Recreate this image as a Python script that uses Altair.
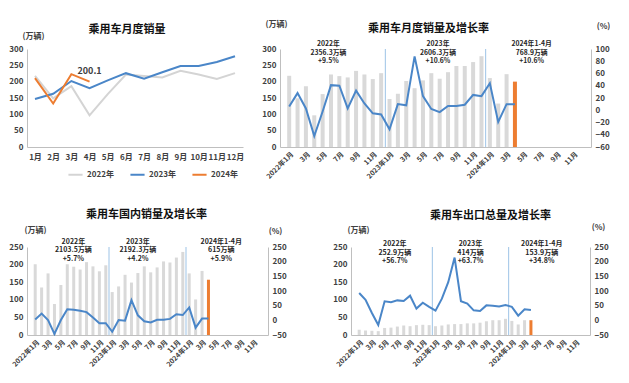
import altair as alt
import pandas as pd

FONT = "Noto Sans CJK SC"
GRAY = "#d9d9d9"
LINE_GRAY = "#d4d4d4"
BLUE = "#4a86c8"
ORANGE = "#ed7d31"
SEP = "#9dc3e6"
AXIS_C = "#bfbfbf"
LBL = "#404040"

# ---------------- data ----------------
months12 = ["1月", "2月", "3月", "4月", "5月", "6月", "7月", "8月", "9月", "10月", "11月", "12月"]
years = ["2022年", "2023年", "2024年"]
sales_2022 = [218, 149, 186, 97, 162, 222, 217, 213, 233, 222, 208, 226]
sales_2023 = [147, 163, 202, 180, 204, 226, 209, 229, 248, 248, 260, 278]
sales_2024 = [211, 133, 223, 200.1]

growth_total = [6, 28, 3, -42, -2, 41, 40, 3, 32, 11, -5, -7,
                -31, 10, 8, 88, 23, 2, -3, 7, 7, 9, 25, 23,
                44, -19, 10, 10]
domestic = [201, 135, 175, 88, 142, 201, 194, 186, 207, 195, 181, 198,
            122, 138, 171, 149, 176, 195, 178, 192, 209, 206, 220, 236,
            175, 101, 182, 157]
growth_domestic = [3, 23, 1, -46, 1, 38, 36, 33, 28, 10, -10, -10,
                   -39, 1, -1, 69, 17, -3, -7, 2, 2, 5, 21, 18,
                   44, -25, 6, 6]
export = [15, 13, 12, 11, 20, 21, 24, 27, 25, 28, 29, 28,
          25, 27, 30, 31, 31, 33, 33, 35, 39, 42, 42, 46,
          40, 30, 42, 42]
growth_export = [93, 70, 25, -16, 65, 62, 68, 66, 84, 40, 60, 46,
                 33, 74, 130, 214, 65, 57, 34, 32, 51, 50, 47, 52,
                 46, 16, 38, 35]

titles = ["乘用车月度销量", "乘用车月度销量及增长率", "乘用车国内销量及增长率", "乘用车出口总量及增长率"]
notes_total = ["2022年\n2356.3万辆\n+9.5%", "2023年\n2606.3万辆\n+10.6%", "2024年1-4月\n768.9万辆\n+10.6%"]
notes_domestic = ["2022年\n2103.5万辆\n+5.7%", "2023年\n2192.3万辆\n+4.2%", "2024年1-4月\n615万辆\n+5.9%"]
notes_export = ["2022年\n252.9万辆\n+56.7%", "2023年\n414万辆\n+63.7%", "2024年1-4月\n153.9万辆\n+34.8%"]
separators = [11.5, 23.5]

label_expr = ("datum.value == 0 ? '2022年1月' : datum.value == 12 ? '2023年1月' : "
              "datum.value == 24 ? '2024年1月' : (datum.value % 12 + 1) + '月'")


def title_layer(text, x, y):
    return alt.Chart(pd.DataFrame({"t": [text]})).mark_text(
        font=FONT, fontSize=11, fontWeight="bold", color="#111111", align="center", baseline="middle"
    ).encode(x=alt.value(x), y=alt.value(y), text="t:N")


# ---------------- panel 1 ----------------
rows = []
for y, arr in zip(years, [sales_2022, sales_2023, sales_2024]):
    for m, v in zip(months12, arr):
        rows.append({"m": m, "year": y, "v": v})
df1 = pd.DataFrame(rows)
df1_lbl = df1[(df1["year"] == "2024年") & (df1["m"] == "4月")].assign(t="200.1")

W1 = 216
x1 = alt.X("m:N", sort=months12, scale=alt.Scale(type="point", padding=0.44),
           axis=alt.Axis(labelAngle=0, title=None, labelPadding=6, labelFontSize=8))
y1 = alt.Y("v:Q", scale=alt.Scale(domain=[0, 300], nice=False),
           axis=alt.Axis(values=list(range(0, 301, 50)), title="(万辆)", titleAngle=0,
                         titleX=6, titleY=-13, titleAlign="center", titleBaseline="middle",
                         labelOverlap=False))
lines1 = alt.Chart(df1).mark_line(strokeWidth=2).encode(
    x=x1, y=y1,
    color=alt.Color("year:N", scale=alt.Scale(domain=years, range=[LINE_GRAY, BLUE, ORANGE]),
                    legend=alt.Legend(orient="none", legendX=40, legendY=117, direction="horizontal",
                                      title=None, symbolType="stroke", symbolSize=200,
                                      symbolStrokeWidth=2, labelFontSize=8, labelFontWeight="bold",
                                      labelColor=LBL, labelFont=FONT, columnPadding=12, labelOffset=3)),
)
lbl1 = alt.Chart(df1_lbl).mark_text(dy=-11, font=FONT, fontSize=9, fontWeight="bold", color=LBL).encode(
    x=x1, y=y1, text="t:N")
p1 = alt.layer(lines1, lbl1, title_layer(titles[0], W1 / 2 - 8, -19)).properties(width=W1, height=98)


# ---------------- dual-axis panels ----------------
def dual(values, growth, lmax, rmin, rmax, rstep, w, h, title, tdx, ty,
         note_i, note_txt, note_dy, note_size, note_lh, barw, lt, rt):
    n = len(values)
    df = pd.DataFrame({"i": list(range(n)), "v": values, "g": growth,
                       "k": ["past"] * (n - 1) + ["cur"]})
    xenc = alt.X("i:Q", scale=alt.Scale(domain=[-0.5, 35.5], nice=False, zero=False),
                 axis=alt.Axis(values=list(range(0, 36, 2)), labelExpr=label_expr, labelAngle=-45,
                               title=None, labelFontSize=7, labelAlign="right", labelBaseline="top",
                               labelPadding=3, labelOverlap=False))
    yl = alt.Y("v:Q", scale=alt.Scale(domain=[0, lmax], nice=False),
               axis=alt.Axis(orient="left", values=list(range(0, lmax + 1, 50)), title="(万辆)",
                             titleAngle=0, titleX=lt[0], titleY=lt[1], titleAlign="center",
                             titleBaseline="middle", labelOverlap=False, tickCount=len(range(0, lmax + 1, 50))))
    bars = alt.Chart(df).mark_bar(width=barw).encode(
        x=xenc, y=yl,
        color=alt.condition(alt.datum.k == "cur", alt.value(ORANGE), alt.value(GRAY)))
    seps = alt.Chart(pd.DataFrame({"i": separators})).mark_rule(color=SEP, strokeWidth=1).encode(x=xenc)
    ndf = pd.DataFrame({"i": note_i, "t": note_txt, "v": [lmax] * len(note_i)})
    notes = alt.Chart(ndf).mark_text(
        lineBreak="\n", baseline="top", align="center", dy=note_dy, font=FONT, fontWeight="bold",
        fontSize=note_size, lineHeight=note_lh, color="#262626").encode(
        x=xenc, y=yl, text="t:N")
    yr = alt.Y("g:Q", scale=alt.Scale(domain=[rmin, rmax], nice=False),
               axis=alt.Axis(orient="right", values=list(range(rmin, rmax + 1, rstep)), title="(%)",
                             titleAngle=0, titleX=rt[0], titleY=rt[1], titleAlign="center",
                             titleBaseline="middle", labelOverlap=False))
    line = alt.Chart(df).mark_line(color=BLUE, strokeWidth=2).encode(x=xenc, y=yr)
    inner = alt.layer(bars, seps, notes, title_layer(title, w / 2 + tdx, ty))
    return alt.layer(inner, line).resolve_scale(y="independent").properties(width=w, height=h)


p2 = dual(sales_2022 + sales_2023 + sales_2024, growth_total, 300, -60, 100, 20, 311, 98,
          titles[1], -7, -20, [4.7, 17.8, 29], notes_total, -8, 6.8, 8.6, 4,
          (-4, -25), (12, -23))
p3 = dual(domestic, growth_domestic, 250, -50, 250, 50, 241, 88,
          titles[2], -1, -32, [5.95, 16, 29], notes_domestic, -9.5, 7, 8.6, 3,
          (8, -17), (7, -16))
p4 = dual(export, growth_export, 250, -50, 250, 50, 239, 88,
          titles[3], 20, -31, [5.6, 17.5, 28.7], notes_export, -7, 7, 8.6, 3,
          (7, -17), (8, -20))

row1 = alt.hconcat(p1, p2, spacing=37, bounds="flush")
row2 = alt.hconcat(p3, p4, spacing=83, bounds="flush")
chart = alt.vconcat(row1, row2, spacing=29).properties(
    padding={"left": 0, "top": 12, "right": 0, "bottom": 0}
).configure(font=FONT).configure_axis(
    labelFont=FONT, labelFontWeight="bold", labelFontSize=8, labelColor=LBL,
    titleFont=FONT, titleFontWeight="bold", titleFontSize=8, titleColor=LBL,
    domainColor=AXIS_C, domainWidth=1, ticks=False, grid=False, labelPadding=4,
).configure_view(stroke=None)

chart.save("out.html", embed_options={"renderer": "svg", "actions": False})
